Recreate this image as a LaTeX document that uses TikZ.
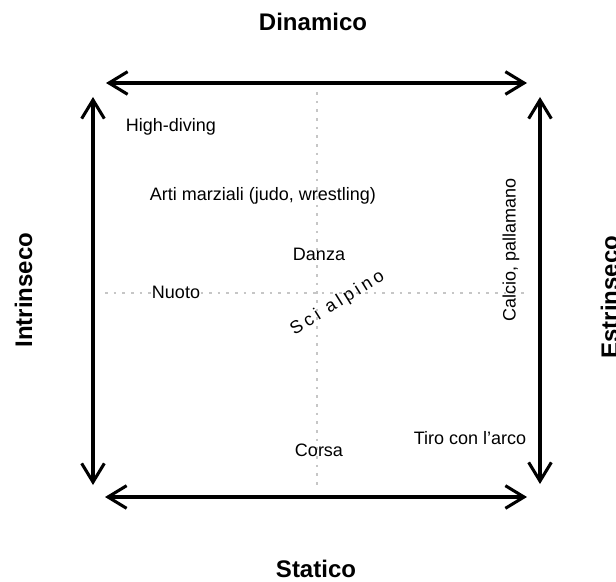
\documentclass[tikz,border=0pt]{standalone}
\usepackage{fontspec}
\setmainfont{Liberation Sans}
\usetikzlibrary{arrows.meta}
\begin{document}
\begin{tikzpicture}[x=0.75pt,y=-0.75pt,
  axis/.style={line width=2.3pt,{Straight Barb[length=14pt,width=17pt]}-{Straight Barb[length=14pt,width=17pt]}},
  guide/.style={line width=1.6pt,gray!45,dash pattern=on 2pt off 4.5pt},
  lbl/.style={font=\fontsize{13.5pt}{16pt}\selectfont,inner sep=0pt,anchor=base},
  ttl/.style={font=\fontsize{18pt}{21pt}\selectfont\bfseries,inner sep=0pt}]
\useasboundingbox (0,0) rectangle (616,581);
% arrow end points
\coordinate (tl) at (106,83);
\coordinate (tr) at (527,83);
\coordinate (bl) at (105,497);
\coordinate (br) at (527,497);
\coordinate (lt) at (93,97);
\coordinate (lb) at (93,485);
\coordinate (rt) at (540,97);
\coordinate (rb) at (540,484);
% guides
\coordinate (vt) at (317,92);
\coordinate (vb) at (317,485);
\coordinate (hl) at (105,293);
\coordinate (hr) at (527,293);
\draw[guide] (vt) -- (vb);
\draw[guide] (hl) -- (hr);
% axes
\draw[axis] (tl) -- (tr);
\draw[axis] (bl) -- (br);
\draw[axis] (lt) -- (lb);
\draw[axis] (rt) -- (rb);
% titles
\node[ttl] (din) at (313,22) {Dinamico};
\node[ttl] (sta) at (316,569) {Statico};
\node[ttl,rotate=90,anchor=base] (intr) at (32,290) {Intrinseco};
\node[ttl,rotate=90,anchor=base] (estr) at (618,297) {Estrinseco};
% labels
\node[lbl,fill=white,inner xsep=1pt] (nuo) at (176,298) {Nuoto};
\node[lbl] (hd) at (171,132) {High-diving};
\node[lbl] (am) at (263,200) {Arti marziali (judo, wrestling)};
\node[lbl] (dan) at (319,260) {Danza};
\node[lbl] (cor) at (319,456) {Corsa};
\node[lbl] (tir) at (470,444) {Tiro con l’arco};
\node[lbl,rotate=90,anchor=center] (cal) at (511,250) {Calcio, pallamano};
\node[lbl,rotate=32] (sci) at (340,307) {\addfontfeature{LetterSpace=20}Sci alpino};
\end{tikzpicture}
\end{document}
